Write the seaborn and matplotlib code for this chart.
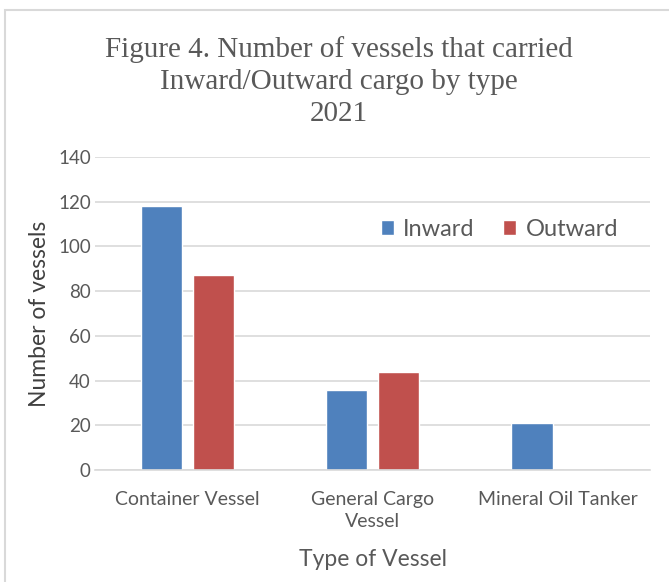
import pandas as pd
import matplotlib
matplotlib.use("Agg")
import matplotlib.pyplot as plt
import seaborn as sns
from matplotlib.patches import Rectangle

# Data
vessel_types = ["Container Vessel", "General Cargo\nVessel", "Mineral Oil Tanker"]
inward = [118, 36, 21]
outward = [87, 44, 0]
directions = ["Inward", "Outward"]
yticks = [0, 20, 40, 60, 80, 100, 120, 140]

df = pd.DataFrame({
    "Type": vessel_types * 2,
    "Direction": ["Inward"] * 3 + ["Outward"] * 3,
    "Count": inward + outward,
})

sns.set_style("white")
plt.rcParams["font.family"] = ["Lato", "DejaVu Sans"]

fig = plt.figure(figsize=(6.69, 5.82), dpi=100)
ax = fig.add_axes([0.142, 0.1924, 0.830, 0.538])

# light frame around the whole chart
fig.patches.append(Rectangle((5 / 669, -0.05), 1.2, 1 - 10 / 582 + 0.05,
                             transform=fig.transFigure, fill=False,
                             edgecolor="#d9d9d9", linewidth=1.5))

sns.barplot(
    data=df, x="Type", y="Count", hue="Direction",
    hue_order=directions, palette=["#4f81bd", "#c0504d"],
    width=0.56, gap=0.2, ax=ax, saturation=1,
)

ax.set_ylim(0, 140)
ax.set_yticks(yticks)
ax.set_xlim(-0.5, 2.5)
ax.yaxis.grid(True, color="#d9d9d9", linewidth=1.2)
ax.set_axisbelow(True)
for s in ["top", "right", "left"]:
    ax.spines[s].set_visible(False)
ax.spines["bottom"].set_color("#d9d9d9")
ax.spines["bottom"].set_linewidth(1.2)
ax.tick_params(axis="x", length=0, labelsize=14, colors="#595959", pad=15)
ax.tick_params(axis="y", length=0, labelsize=13.5, colors="#595959", pad=3)
for lab in ax.get_xticklabels():
    lab.set_linespacing(1.35)

ax.set_xlabel("Type of Vessel", fontsize=16.5, color="#595959", labelpad=14)
ax.set_ylabel("Number of vessels", fontsize=16.5, color="#404040", labelpad=6)

ax.legend(loc="upper right", bbox_to_anchor=(0.98, 0.87), ncol=2, frameon=False,
          fontsize=17, handlelength=0.55, handleheight=0.55, handletextpad=0.4,
          columnspacing=1.2, labelcolor="#595959")

fig.text(0.507, 0.938, "Figure 4. Number of vessels that carried\nInward/Outward cargo by type\n2021",
         ha="center", va="top", fontsize=21, color="#595959",
         family=["Liberation Serif", "DejaVu Serif"], linespacing=1.3)

fig.savefig("out.png", dpi=100)
